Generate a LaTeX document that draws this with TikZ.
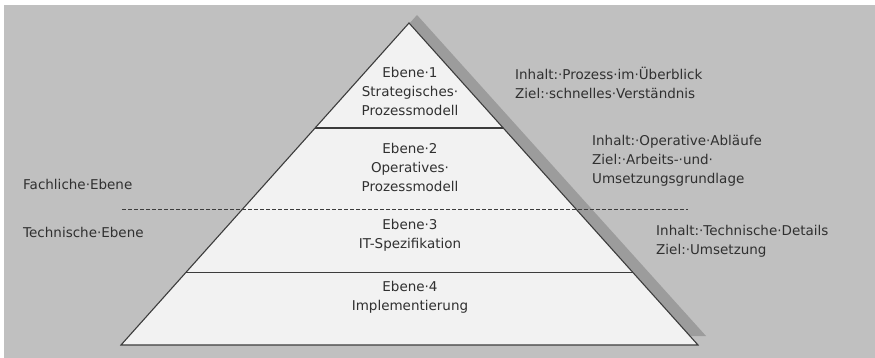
\documentclass[tikz,border=0pt]{standalone}
\usepackage{fontspec}
\setmainfont{DejaVu Sans}
\definecolor{bggray}{HTML}{C0C0C0}
\definecolor{shadowgray}{HTML}{9C9C9C}
\definecolor{pyrfill}{HTML}{F2F2F2}
\definecolor{edgegray}{HTML}{3C3C3C}
\definecolor{txtgray}{HTML}{303030}
\begin{document}
\begin{tikzpicture}[x=1pt,y=-1pt,
  txt/.style={inner sep=0pt, text=txtgray, font=\fontsize{13.5}{19}\selectfont},
  lvl/.style={txt, align=center},
  info/.style={txt, align=left, anchor=west},
  edge/.style={draw=edgegray, line width=1.1pt},
  sep/.style={draw=edgegray, line width=1pt, dash pattern=on 4pt off 2pt}]
\useasboundingbox (0,0) rectangle (875,358);
\fill[white] (0,0) rectangle (875,358);
\fill[bggray] (4,5) rectangle (875,358);
% shadow
\fill[shadowgray] (417,15) -- (706,336) -- (129,336) -- cycle;
% pyramid
\coordinate (apex) at (409,23);
\coordinate (bl) at (121,345);
\coordinate (br) at (698,345);
\filldraw[fill=pyrfill, edge, line join=miter] (apex) -- (br) -- (bl) -- cycle;
% level separators
\path (apex) -- (bl) coordinate[pos=0.326] (l12a);
\path (apex) -- (br) coordinate[pos=0.326] (l12b);
\path (apex) -- (bl) coordinate[pos=0.776] (l34a);
\path (apex) -- (br) coordinate[pos=0.776] (l34b);
\draw[edge] (l12a) -- (l12b);
\draw[edge] (l34a) -- (l34b);
% dashed border between fachlich and technisch
\coordinate (dA) at (122,210);
\coordinate (dB) at (688,210);
\draw[sep] (dA) -- (dB);
% level texts
\node[lvl] (e1) at (410,91) {Ebene·1\\Strategisches·\\Prozessmodell};
\node[lvl] (e2) at (410,167) {Ebene·2\\Operatives·\\Prozessmodell};
\node[lvl] (e3) at (410,235) {Ebene·3\\IT-Spezifikation};
\node[lvl] (e4) at (410,297) {Ebene·4\\Implementierung};
% right texts
\node[info] (i1) at (515,83) {Inhalt:·Prozess·im·Überblick\\Ziel:·schnelles·Verständnis};
\node[info] (i2) at (592,161) {Inhalt:·Operative·Abläufe\\Ziel:·Arbeits-·und·\\Umsetzungsgrundlage};
\node[info] (i3) at (656,241) {Inhalt:·Technische·Details\\Ziel:·Umsetzung};
% left texts
\node[info] (fe) at (23,184) {Fachliche·Ebene};
\node[info] (te) at (23,232) {Technische·Ebene};
\end{tikzpicture}
\end{document}
